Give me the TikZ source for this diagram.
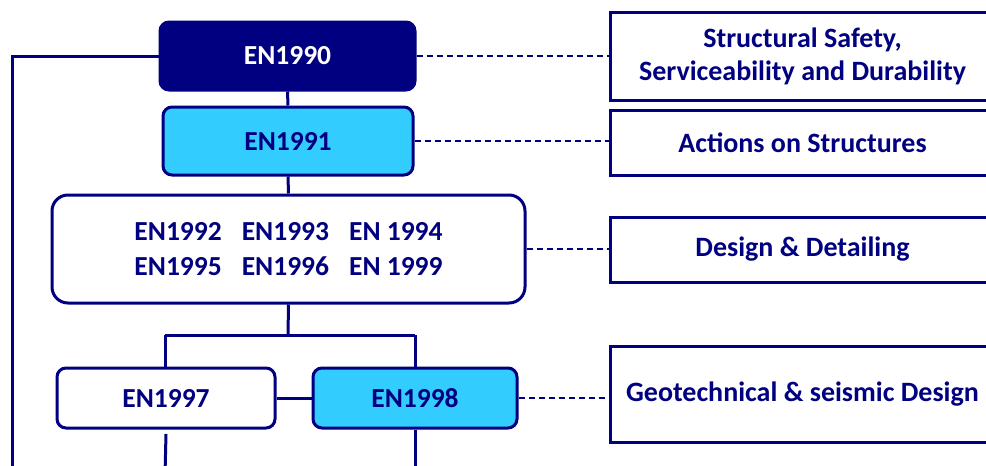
\documentclass[tikz,border=0pt]{standalone}
\usepackage{fontspec}
\setmainfont{Carlito}
\definecolor{navy}{RGB}{0,0,128}
\definecolor{skyc}{RGB}{51,204,255}
\tikzset{
  enbox/.style={draw=navy, line width=3pt, rounded corners=9pt, text=navy, font=\bfseries\fontsize{27.5}{35}\selectfont, inner sep=0pt},
  topicbox/.style={draw=navy, line width=3pt, fill=white, text=navy, font=\bfseries\fontsize{28}{33}\selectfont, align=center, inner sep=0pt, minimum width=385pt},
  conn/.style={draw=navy, line width=3pt},
  dconn/.style={draw=navy, line width=1.4pt, dash pattern=on 6pt off 4pt},
}
\begin{document}
\begin{tikzpicture}[x=1pt,y=-1pt]
\useasboundingbox (0,0) rectangle (986,466);
\clip (0,0) rectangle (986,466);
% EN boxes
\node[enbox, fill=navy, text=white, minimum width=255pt, minimum height=68pt] (en1990) at (287.5,56) {EN1990};
\node[enbox, fill=skyc, minimum width=250pt, minimum height=68pt] (en1991) at (288,141) {EN1991};
\node[enbox, fill=white, rounded corners=16pt, minimum width=473pt, minimum height=108pt, align=center] (mid) at (288.5,249)
  {EN1992\hspace{20pt}EN1993\hspace{20pt}EN 1994\\EN1995\hspace{20pt}EN1996\hspace{20pt}EN 1999};
\node[enbox, fill=white, minimum width=218pt, minimum height=60pt] (en1997) at (166,398) {EN1997};
\node[enbox, fill=skyc, minimum width=204pt, minimum height=60pt] (en1998) at (415,398) {EN1998};
% topic boxes
\node[topicbox, minimum height=88pt] (t1) at (802.5,56) {Structural Safety,\\Serviceability and Durability};
\node[topicbox, minimum height=65pt] (t2) at (802.5,142.5) {Actions on Structures};
\node[topicbox, minimum height=65pt] (t3) at (802.5,249.5) {Design \& Detailing};
\node[topicbox, minimum height=96pt] (t4) at (802.5,394) {Geotechnical \& seismic Design};
% coordinates
\coordinate (lb) at (12,475);
\coordinate (hsplit) at (288,335);
\coordinate (b97) at (165,475);
\coordinate (b98) at (415,475);
% solid connectors
\draw[conn] (en1990.west) -- (12,56) -- (lb);
\draw[conn] (en1990.south) -- (en1991.north);
\draw[conn] (en1991.south) -- (mid.north);
\draw[conn] (mid.south) -- (hsplit);
\draw[conn] (165,335) -- (415,335);
\draw[conn] (165,335) -- (165,368);
\draw[conn] (415,335) -- (415,368);
\draw[conn] (en1997.east) -- (en1998.west);
\draw[conn] (en1997.south |- 0,434) -- (b97);
\draw[conn] (en1998.south) -- (b98);
% dashed connectors
\draw[dconn] (en1990.east) -- (en1990.east -| t1.west);
\draw[dconn] (en1991.east) -- (en1991.east -| t2.west);
\draw[dconn] (mid.east) -- (mid.east -| t3.west);
\draw[dconn] (en1998.east) -- (en1998.east -| t4.west);
\end{tikzpicture}
\end{document}
